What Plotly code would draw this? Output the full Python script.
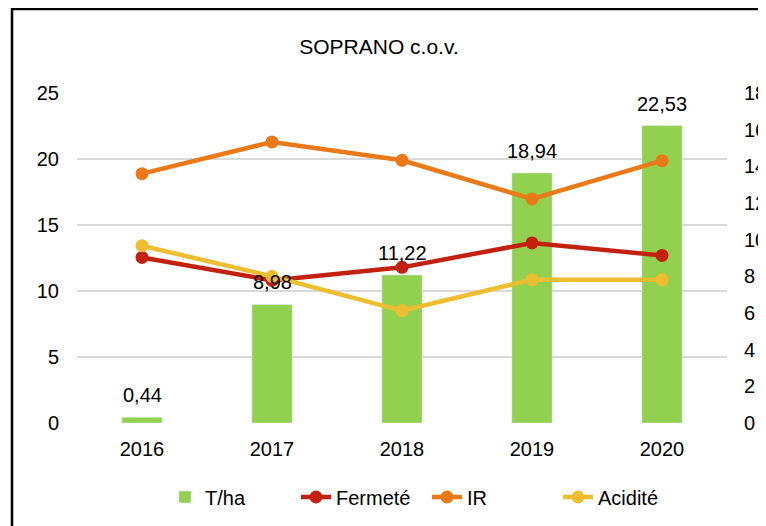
import plotly.graph_objects as go

years = ["2016", "2017", "2018", "2019", "2020"]
t_ha = [0.44, 8.98, 11.22, 18.94, 22.53]
fermete = [9.03, 7.78, 8.49, 9.82, 9.14]
ir = [13.6, 15.33, 14.33, 12.22, 14.31]
acidite = [9.67, 8.0, 6.13, 7.82, 7.82]

left_ticks = [0, 5, 10, 15, 20, 25]
right_ticks = [0, 2, 4, 6, 8, 10, 12, 14, 16, 18]

FONT = "Liberation Sans, Arial, sans-serif"
W, H = 766, 526
OFF = 8  # page body margin
L, R, T, B = 69, 47, 85, 111
pw, ph = W - L - R, H - T - B


def px_x(px):
    return (px - OFF - L) / pw


def px_y(py):
    return (H - B - (py - OFF)) / ph


fig = go.Figure()
fig.add_trace(go.Bar(x=years, y=t_ha, name="T/ha", marker_color="#92D050",
                     width=0.31, yaxis="y"))
for name, vals, col in [("Fermeté", fermete, "#C3200E"),
                        ("IR", ir, "#EB7917"),
                        ("Acidité", acidite, "#EEBD30")]:
    fig.add_trace(go.Scatter(x=years, y=vals, name=name, yaxis="y2",
                             mode="lines+markers",
                             line=dict(color=col, width=4.5),
                             marker=dict(color=col, size=13)))

for i, v in enumerate(t_ha):
    fig.add_annotation(x=i, y=v, xref="x", yref="y", text=f"{v:.2f}".replace(".", ","),
                       showarrow=False, yanchor="bottom", yshift=9,
                       font=dict(family=FONT, size=20, color="#000000"))

fig.add_shape(type="rect", xref="paper", yref="paper",
              x0=px_x(12), x1=px_x(840), y0=px_y(600), y1=px_y(9),
              line=dict(color="#000000", width=2.5), fillcolor="rgba(0,0,0,0)",
              layer="above")

fig.update_layout(
    width=W, height=H,
    margin=dict(l=L, r=R, t=T, b=B, autoexpand=False),
    paper_bgcolor="white", plot_bgcolor="white",
    font=dict(family=FONT, size=20, color="#000000"),
    title=dict(text="SOPRANO c.o.v.", x=(379 - OFF) / W, xref="container", xanchor="center",
               y=1 - (47 - OFF) / H, yref="container", yanchor="middle",
               font=dict(family=FONT, size=21, color="#000000")),
    showlegend=True,
    legend=dict(orientation="h", x=px_x(427), xanchor="center", y=px_y(497), yanchor="middle",
                font=dict(family=FONT, size=20, color="#000000"),
                entrywidth=86, traceorder="normal"),
    xaxis=dict(type="category", categoryorder="array", categoryarray=years,
               range=[-0.5, len(years) - 0.5], autorange=False,
               showgrid=False, showline=False, ticks="",
               tickfont=dict(family=FONT, size=20), ticklabelstandoff=12),
    yaxis=dict(range=[0, 25], tickvals=left_ticks, showgrid=True, gridcolor="#D9D9D9",
               gridwidth=1.5, zeroline=False, showline=False, ticks="",
               tickfont=dict(family=FONT, size=20), ticklabelstandoff=17),
    yaxis2=dict(range=[0, 18], tickvals=right_ticks, overlaying="y", side="right",
                showgrid=False, zeroline=False, showline=False, ticks="",
                tickfont=dict(family=FONT, size=20), ticklabelstandoff=16),
)

fig.write_html("out.html")
